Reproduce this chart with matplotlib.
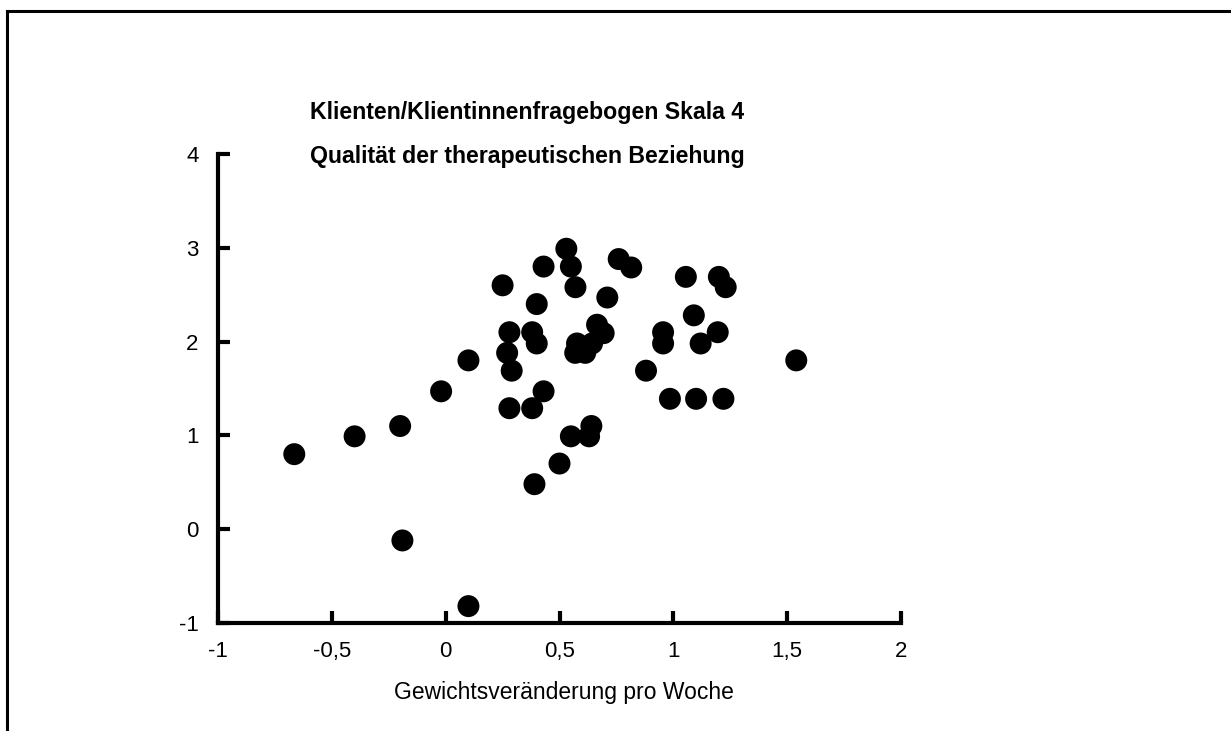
import matplotlib
matplotlib.use("Agg")
import matplotlib.pyplot as plt
from matplotlib.ticker import FuncFormatter, FixedLocator
from matplotlib.lines import Line2D

plt.rcParams['font.family'] = ['Liberation Sans', 'DejaVu Sans']
plt.rcParams['axes.unicode_minus'] = False

title_lines = ["Klienten/Klientinnenfragebogen Skala 4",
               "Qualität der therapeutischen Beziehung"]
x_label = "Gewichtsveränderung pro Woche"

weight_change = [-0.665, -0.40, -0.20, -0.19, -0.02, 0.10, 0.10, 0.25, 0.28, 0.27,
                 0.29, 0.28, 0.38, 0.40, 0.40, 0.43, 0.43, 0.38, 0.39, 0.50,
                 0.53, 0.55, 0.57, 0.55, 0.63, 0.64, 0.577, 0.569, 0.613, 0.643,
                 0.665, 0.694, 0.71, 0.76, 0.815, 0.88, 0.955, 0.955, 0.985, 1.055,
                 1.09, 1.10, 1.12, 1.195, 1.20, 1.23, 1.22, 1.54]
scale4 = [0.80, 0.99, 1.10, -0.12, 1.47, 1.80, -0.82, 2.60, 2.10, 1.88,
          1.69, 1.29, 2.10, 1.98, 2.40, 2.80, 1.47, 1.29, 0.48, 0.70,
          2.99, 2.80, 2.58, 0.99, 0.99, 1.10, 1.98, 1.88, 1.88, 1.98,
          2.18, 2.09, 2.47, 2.88, 2.79, 1.69, 2.10, 1.98, 1.39, 2.69,
          2.28, 1.39, 1.98, 2.10, 2.69, 2.58, 1.39, 1.80]

x_ticks = [-1, -0.5, 0, 0.5, 1, 1.5, 2]
y_ticks = [-1, 0, 1, 2, 3, 4]

W, H = 1231, 731
fig = plt.figure(figsize=(W / 100, H / 100), dpi=100)
ax = fig.add_axes([218 / W, 1 - 623 / H, (901 - 218) / W, (623 - 154) / H])

ax.scatter(weight_change, scale4, s=250, c='black', edgecolors='none', zorder=3, clip_on=False)

ax.set_xlim(-1, 2)
ax.set_ylim(-1, 4)
for s in ['top', 'right']:
    ax.spines[s].set_visible(False)
for s in ['left', 'bottom']:
    ax.spines[s].set_linewidth(3)
    ax.spines[s].set_capstyle('projecting')

fmt = FuncFormatter(lambda v, p: ('%g' % v).replace('.', ','))
ax.xaxis.set_major_locator(FixedLocator(x_ticks))
ax.yaxis.set_major_locator(FixedLocator(y_ticks))
ax.xaxis.set_major_formatter(fmt)
ax.yaxis.set_major_formatter(fmt)
ax.tick_params(axis='both', direction='in', length=8.5, width=3, labelsize=16, color='black')
ax.tick_params(axis='x', pad=13)
ax.tick_params(axis='y', pad=14)

ax.set_xlabel(x_label, fontsize=16.5, labelpad=15)
ax.xaxis.set_label_coords((564 - 218) / (901 - 218), -((693 - 623) / (623 - 154)))
ax.xaxis.label.set_va('center')

fig.text(527 / W, 1 - 112 / H, title_lines[0], ha='center', va='center',
         fontsize=16.7, fontweight='bold')
fig.text(527 / W, 1 - 157 / H, title_lines[1], ha='center', va='center',
         fontsize=16.7, fontweight='bold')

# outer frame (left and top edges visible)
fig.add_artist(Line2D([7 / W, 7 / W], [0, 1 - 11 / H], transform=fig.transFigure,
                      color='black', lw=2.2))
fig.add_artist(Line2D([7 / W, 1], [1 - 11 / H, 1 - 11 / H], transform=fig.transFigure,
                      color='black', lw=2.2, solid_capstyle='projecting'))

fig.savefig("out.png", dpi=100)
